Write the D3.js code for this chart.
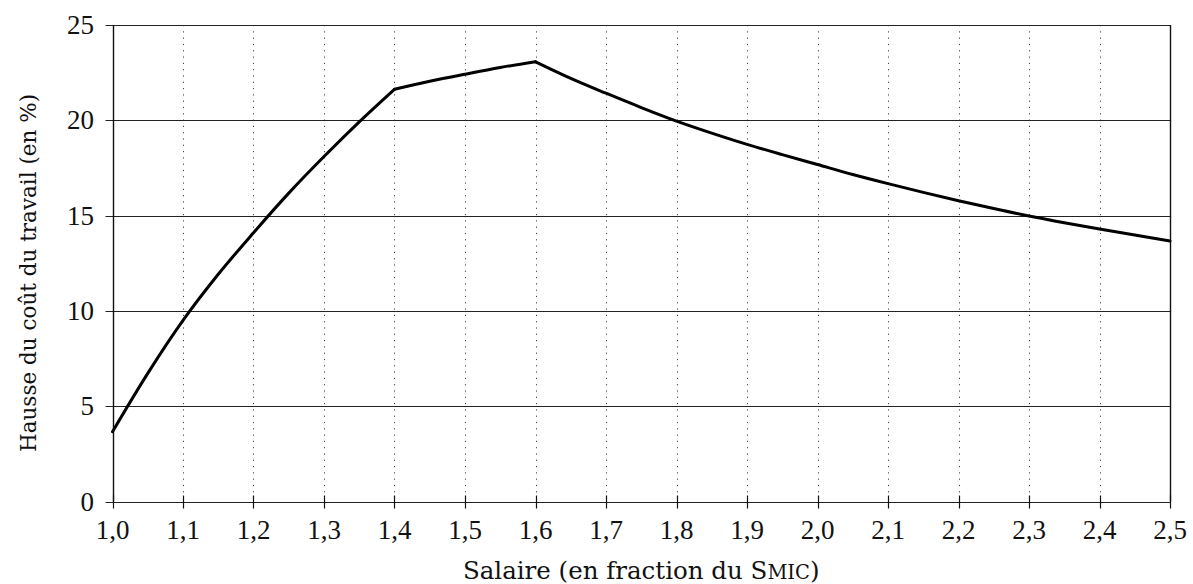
<!DOCTYPE html>
<html><head><meta charset="utf-8">
<script src="https://cdn.jsdelivr.net/npm/d3@7"></script>
<style>body{margin:0;background:#fff;} svg{display:block;}</style>
</head><body>
<svg id="c" width="1193" height="584"></svg>
<script>
const salaire = [1.00,1.05,1.10,1.15,1.20,1.25,1.30,1.35,1.40,1.45,1.50,1.55,1.60,1.65,1.70,1.75,1.80,1.85,1.90,1.95,2.00,2.05,2.10,2.15,2.20,2.25,2.30,2.35,2.40,2.45,2.50];
const hausse  = [3.66,6.72,9.50,11.92,14.10,16.18,18.10,19.92,21.63,22.05,22.42,22.77,23.07,22.20,21.42,20.67,19.96,19.33,18.74,18.20,17.68,17.16,16.68,16.22,15.78,15.37,14.98,14.63,14.30,13.98,13.67];
const kinks = [1.40, 1.60];
const xTicks = [1.0,1.1,1.2,1.3,1.4,1.5,1.6,1.7,1.8,1.9,2.0,2.1,2.2,2.3,2.4,2.5];
const yTicks = [0,5,10,15,20,25];
const xLabel = ["Salaire (en fraction du ", "S", "MIC", ")"];
const yLabel = "Hausse du coût du travail (en %)";

const svg = d3.select("#c");
const tickFont = "'Liberation Serif', serif";
const labelFont = "'DejaVu Serif', serif";
const x = d3.scaleLinear().domain([1.0, 2.5]).range([112.5, 1170]);
const y = d3.scaleLinear().domain([0, 25]).range([501.5, 25]);
const fmt = d => d.toFixed(1).replace(".", ",");

// vertical dotted gridlines
svg.append("g").selectAll("line").data(xTicks.slice(1, -1)).join("line")
  .attr("x1", d => Math.round(x(d)) + 0.5).attr("x2", d => Math.round(x(d)) + 0.5)
  .attr("y1", y(25)).attr("y2", y(0))
  .attr("stroke", "#444").attr("stroke-width", 1).attr("stroke-dasharray", "1.2,5.1");

// horizontal gridlines (solid) with left tick
svg.append("g").selectAll("line").data(yTicks).join("line")
  .attr("x1", x(1.0) - 7).attr("x2", x(2.5))
  .attr("y1", d => Math.round(y(d)) + 0.5).attr("y2", d => Math.round(y(d)) + 0.5)
  .attr("stroke", "#222").attr("stroke-width", 1.1);

// x axis ticks
svg.append("g").selectAll("line").data(xTicks).join("line")
  .attr("x1", d => Math.round(x(d)) + 0.5).attr("x2", d => Math.round(x(d)) + 0.5)
  .attr("y1", y(0) - 6).attr("y2", y(0) + 7)
  .attr("stroke", "#111").attr("stroke-width", 1.2);

// left and right frame
[1.0, 2.5].forEach(v => {
  svg.append("line")
    .attr("x1", Math.round(x(v)) + 0.5).attr("x2", Math.round(x(v)) + 0.5)
    .attr("y1", y(25)).attr("y2", y(0))
    .attr("stroke", "#111").attr("stroke-width", 1.4);
});

// x tick labels
svg.append("g").selectAll("text").data(xTicks).join("text")
  .attr("x", d => x(d)).attr("y", 539)
  .attr("text-anchor", "middle")
  .attr("font-family", tickFont).attr("font-size", 27).attr("fill", "#111")
  .text(fmt);

// y tick labels
svg.append("g").selectAll("text").data(yTicks).join("text")
  .attr("x", 94).attr("y", d => y(d) + 9)
  .attr("text-anchor", "end")
  .attr("font-family", tickFont).attr("font-size", 27).attr("fill", "#111")
  .text(d => d);

// curve: smooth pieces joined at the kinks
const pts = salaire.map((s, i) => [s, hausse[i]]);
const bounds = [salaire[0], ...kinks, salaire[salaire.length - 1]];
const line = d3.line().x(d => x(d[0])).y(d => y(d[1])).curve(d3.curveMonotoneX);
for (let k = 0; k < bounds.length - 1; k++) {
  const seg = pts.filter(p => p[0] >= bounds[k] - 1e-9 && p[0] <= bounds[k + 1] + 1e-9);
  svg.append("path").datum(seg)
    .attr("d", line).attr("fill", "none")
    .attr("stroke", "#000").attr("stroke-width", 3)
    .attr("stroke-linejoin", "round").attr("stroke-linecap", "round");
}

// x label
const xl = svg.append("text")
  .attr("x", (x(1.0) + x(2.5)) / 2).attr("y", 579)
  .attr("text-anchor", "middle")
  .attr("font-family", labelFont).attr("font-size", 24.5).attr("fill", "#111");
xl.append("tspan").text(xLabel[0]);
xl.append("tspan").text(xLabel[1]);
xl.append("tspan").attr("font-size", 19.5).text(xLabel[2]);
xl.append("tspan").text(xLabel[3]);

// y label
svg.append("text")
  .attr("transform", `translate(36,273) rotate(-90)`)
  .attr("text-anchor", "middle")
  .attr("font-family", labelFont).attr("font-size", 21.5).attr("fill", "#111")
  .text(yLabel);
</script>
</body></html>
